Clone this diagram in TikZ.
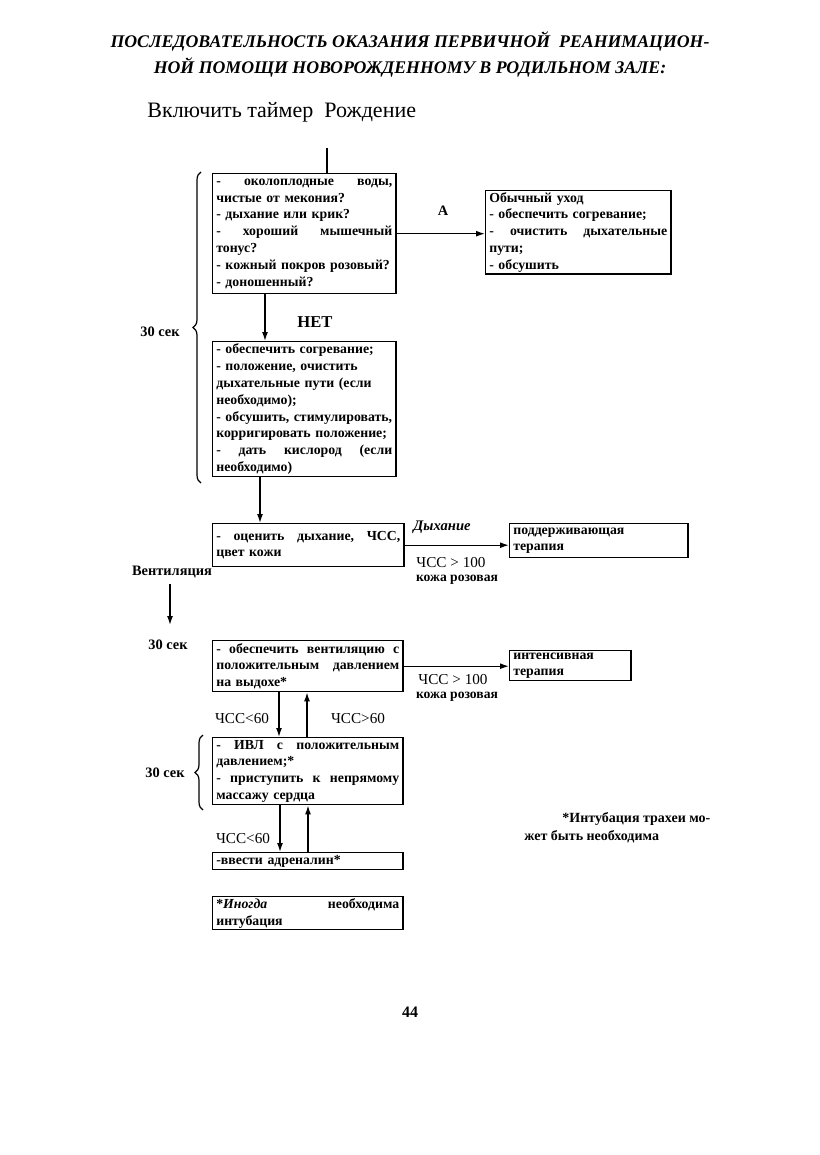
\documentclass[tikz,border=0pt]{standalone}
\usepackage{fontspec}
\setmainfont{Liberation Serif}
\usetikzlibrary{arrows.meta,decorations.pathreplacing}
\newcommand{\bxfont}{\fontsize{6.9}{8.4}\selectfont\bfseries}
\newcommand{\lbfont}{\fontsize{7.2}{9}\selectfont\bfseries}

\begin{document}
\begin{tikzpicture}[x=0.5pt,y=-0.5pt,
	blok/.style 2 args={draw,line width=.7pt,anchor=north west,inner xsep=1.8pt,inner ysep=.8pt,
		align=left,font=\bxfont,text width=#1,minimum height=#2},
	pfeil/.style={line width=.7pt,-{Latex[length=4.5pt,width=3pt]}},
	skobka/.style={decorate,decoration={brace,amplitude=4pt},line width=.6pt},
	lbl/.style={font=\lbfont,inner sep=1pt},
	chss/.style={font=\fontsize{7.6}{9}\selectfont,inner sep=1pt}]
%   (start)
%      |
%   [box1] --A--> [ok]
%      | НЕТ
%   [box2]
%      |
%   [box3] ----> [stuetz]
%   (vent)
%   [box4] ----> [intens]
%     v ^
%   [box5]
%     v ^
%   [box6]   [box7]

	\useasboundingbox (0,0) rectangle (819,1155);
	\coordinate (start) at (327,148);
	\coordinate (ventend) at (170,625);

	\node[font=\bfseries\itshape\fontsize{8.9}{13}\selectfont,align=center] (titel) at (410,55)
		{ПОСЛЕДОВАТЕЛЬНОСТЬ ОКАЗАНИЯ ПЕРВИЧНОЙ\ \ РЕАНИМАЦИОН-\\НОЙ ПОМОЩИ НОВОРОЖДЕННОМУ В РОДИЛЬНОМ ЗАЛЕ:};
	\node[anchor=west,font=\fontsize{11}{13}\selectfont,inner sep=0pt] (timer) at (147,112) {Включить таймер\ \ Рождение};

	\node[blok={88pt}{60pt}] (box1) at (212,173) {-\hfill околоплодные\hfill воды,\\чистые от мекония?\\- дыхание или крик?\\-\hfill хороший\hfill мышечный\\тонус?\\- кожный покров розовый?\\- доношенный?};
	\node[blok={89pt}{41.5pt}] (ok) at (485,190) {Обычный уход\\- обеспечить согревание;\\-\hfill очистить\hfill дыхательные\\пути;\\- обсушить};
	\node[blok={88pt}{67.5pt}] (box2) at (212,341) {- обеспечить согревание;\\- положение, очистить\\дыхательные пути (если\\необходимо);\\- обсушить, стимулировать,\\корригировать положение;\\-\hfill дать\hfill кислород\hfill (если\\необходимо)};
	\node[blok={92pt}{21.5pt}] (box3) at (212,523) {-\hfill оценить\hfill дыхание,\hfill ЧСС,\\цвет кожи};
	\node[blok={85.5pt}{17pt}] (stuetz) at (509,523) {поддерживающая\\терапия};
	\node[blok={91.5pt}{25.5pt}] (box4) at (212,640) {-\hfill обеспечить\hfill вентиляцию\hfill с\\положительным\hfill давлением\\на выдохе*};
	\node[blok={57pt}{15pt}] (intens) at (509,650) {интенсивная\\терапия};
	\node[blok={91.5pt}{33.5pt}] (box5) at (212,737) {-\hfill ИВЛ\hfill с\hfill положительным\\давлением;*\\-\hfill приступить\hfill к\hfill непрямому\\массажу сердца};
	\node[blok={91.5pt}{8.5pt}] (box6) at (212,852) {-ввести адреналин*};
	\node[blok={91.5pt}{16.5pt}] (box7) at (212,896) {*\textit{Иногда}\hfill необходима\\интубация};

	\draw[line width=.7pt] (start) -- (start |- box1.north);
	\draw[pfeil] (box1.east) -- (box1.east -| ok.west);
	\node[lbl] (a) at (443,211) {А};
	\draw[pfeil] ([xshift=26.5pt]box1.south west) -- ([xshift=26.5pt]box2.north west);
	\node[lbl,font=\fontsize{8.3}{9}\selectfont\bfseries] (net) at (315,322) {НЕТ};
	\draw[pfeil] ([xshift=24pt]box2.south west) -- ([xshift=24pt]box3.north west);

	\draw[pfeil] (box3.east) -- (box3.east -| stuetz.west);
	\node[lbl,font=\fontsize{7.3}{9}\selectfont\bfseries\itshape] (dyh) at (442,527) {Дыхание};
	\node[chss] (chss1) at (451,563) {ЧСС > 100};
	\node[lbl,font=\fontsize{6.8}{9}\selectfont\bfseries] (kozha1) at (457,580) {кожа розовая};

	\node[lbl] (vent) at (172,572) {Вентиляция};
	\draw[pfeil] (vent.south -| ventend) ++(0,4) -- (ventend);
	\node[lbl] (sek2) at (168,645) {30 сек};

	\draw[pfeil] (box4.east) -- (box4.east -| intens.west);
	\node[chss] (chss2) at (453,680) {ЧСС > 100};
	\node[lbl,font=\fontsize{6.8}{9}\selectfont\bfseries] (kozha2) at (457,697) {кожа розовая};

	\draw[pfeil] ([xshift=33.5pt]box4.south west) -- ([xshift=33.5pt]box5.north west);
	\draw[pfeil] ([xshift=47.5pt]box5.north west) -- ([xshift=47.5pt]box4.south west);
	\node[chss] (chss3) at (242,719) {ЧСС<60};
	\node[chss] (chss4) at (358,719) {ЧСС>60};

	\draw[pfeil] ([xshift=34pt]box5.south west) -- ([xshift=34pt]box6.north west);
	\draw[pfeil] ([xshift=48pt]box6.north west) -- ([xshift=48pt]box5.south west);
	\node[chss] (chss5) at (243,839) {ЧСС<60};

	% skobki sleva
	\draw[skobka] (201,483) -- (201,172);
	\node[lbl] (sek1) at (160,332) {30 сек};
	\draw[skobka] (203,810) -- (203,735);
	\node[lbl] (sek3) at (165,773) {30 сек};

	\node[lbl,anchor=north west,align=left,font=\fontsize{7}{9}\selectfont\bfseries] (prim) at (522,810)
		{\hspace*{19pt}*Интубация трахеи мо-\\жет быть необходима};
	\node[lbl,font=\fontsize{8}{9}\selectfont\bfseries] (seite) at (410,1012) {44};
\end{tikzpicture}
\end{document}
